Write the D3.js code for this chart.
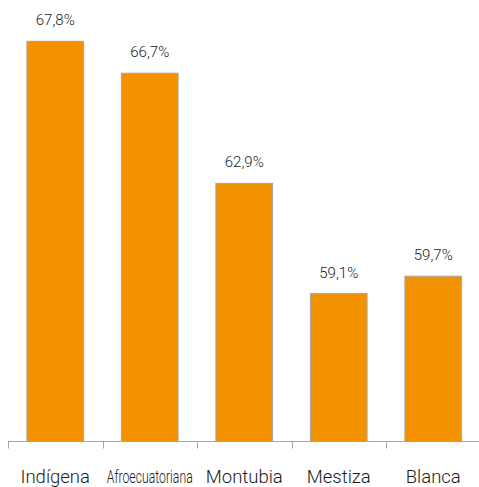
<!DOCTYPE html>
<html><head><meta charset="utf-8">
<script src="https://cdn.jsdelivr.net/npm/d3@7"></script>
<style>body{margin:0;background:#fff}svg{display:block}</style>
</head><body>
<svg id="c" width="479" height="487"></svg>
<script>
const categories = ["Indígena","Afroecuatoriana","Montubia","Mestiza","Blanca"];
const values = [67.8, 66.7, 62.9, 59.1, 59.7];
const valueLabels = ["67,8%","66,7%","62,9%","59,1%","59,7%"];

const svg = d3.select("#c");
const x = d3.scaleBand().domain(categories).range([8, 480.5]).padding(0);
const y = d3.scaleLinear().domain([54, 68]).range([441.5, 35.5]);
const bw = x.bandwidth()*0.6, off = (x.bandwidth()-bw)/2;
const FONT = "Roboto, 'Liberation Sans', Arial, sans-serif";

svg.selectAll("rect.bar").data(values).join("rect")
  .attr("class","bar")
  .attr("x",(d,i)=>x(categories[i])+off)
  .attr("y",d=>y(d))
  .attr("width",bw)
  .attr("height",d=>y.range()[0]-y(d))
  .attr("fill","#F39200")
  .attr("stroke","#A6A6A6").attr("stroke-width",1);

svg.selectAll("text.val").data(values).join("text")
  .attr("class","val")
  .attr("x",(d,i)=>x(categories[i])+x.bandwidth()/2)
  .attr("y",d=>y(d)-16)
  .attr("text-anchor","middle")
  .attr("font-family",FONT).attr("font-weight",300)
  .attr("font-size",15)
  .attr("fill","#1a1a1a")
  .attr("textLength",39).attr("lengthAdjust","spacingAndGlyphs")
  .text((d,i)=>valueLabels[i]);

// axis
const base = y.range()[0];
svg.append("line").attr("x1",8).attr("x2",479).attr("y1",base).attr("y2",base)
  .attr("stroke","#A6A6A6").attr("stroke-width",1);
svg.selectAll("line.tick").data(categories).join("line")
  .attr("class","tick")
  .attr("x1",d=>Math.round(x(d))+0.5).attr("x2",d=>Math.round(x(d))+0.5)
  .attr("y1",base).attr("y2",base+7)
  .attr("stroke","#A6A6A6").attr("stroke-width",1);

svg.selectAll("text.cat").data(categories).join("text")
  .attr("class","cat")
  .attr("x",d=>x(d)+x.bandwidth()/2)
  .attr("y",483)
  .attr("text-anchor","middle")
  .attr("font-family",FONT).attr("font-weight",300)
  .attr("font-size",d=>d==="Afroecuatoriana"?18:18.5)
  .attr("fill","#1a1a1a")
  .each(function(d){ if(d==="Afroecuatoriana") d3.select(this).attr("textLength",86).attr("lengthAdjust","spacingAndGlyphs"); })
  .text(d=>d);
</script>
</body></html>
